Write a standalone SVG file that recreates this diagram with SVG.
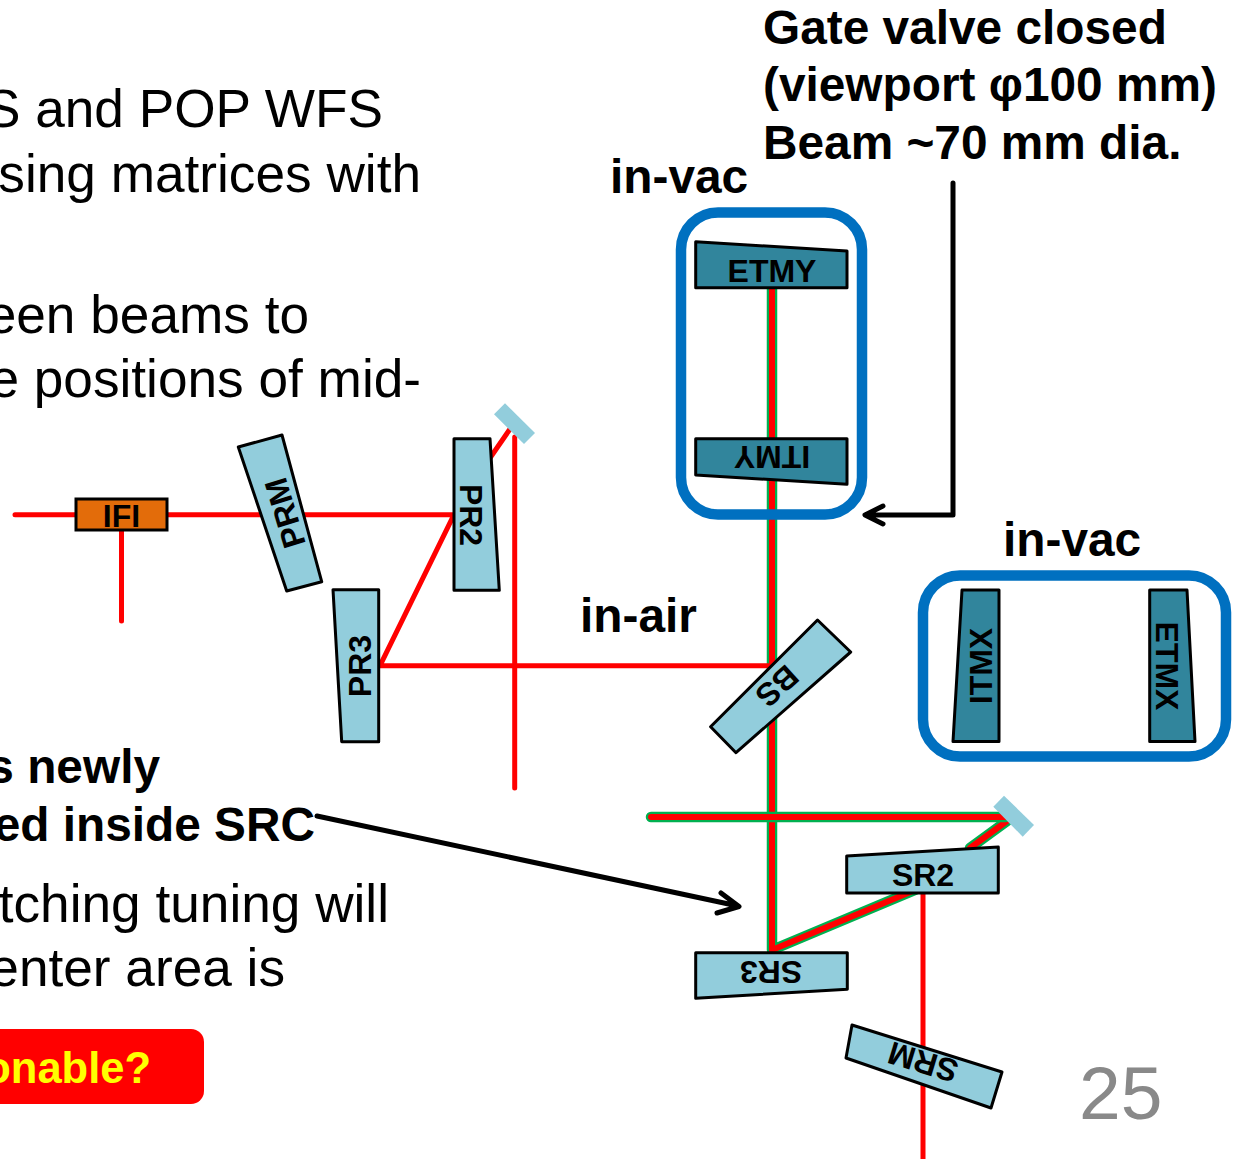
<svg xmlns="http://www.w3.org/2000/svg" width="1236" height="1159" viewBox="0 0 1236 1159">
<style>
text{font-family:"Liberation Sans",Arial,sans-serif}
.body{font-size:53.200px;fill:#000;text-anchor:end}
.bold{font-size:47.800px;font-weight:700;fill:#000}
.boldend{font-size:47.800px;font-weight:700;fill:#000;text-anchor:end}
.lbl{font-size:32px;font-weight:700;fill:#000;text-anchor:middle;dominant-baseline:central}
.light{fill:#92CDDC;stroke:#000;stroke-width:3;stroke-linejoin:round}
.dark{fill:#31859C;stroke:#000;stroke-width:3;stroke-linejoin:round}
.mir{fill:#92CDDC}
.box{fill:none;stroke:#0070C0;stroke-width:10.500}
.r{fill:none;stroke:#FF0000;stroke-width:5;stroke-linecap:round;stroke-linejoin:round}
.gb{fill:none;stroke:#00B050;stroke-width:10.500;stroke-linecap:round;stroke-linejoin:round}
.rb{fill:none;stroke:#FF0000;stroke-width:6;stroke-linecap:round;stroke-linejoin:round}
.k{fill:none;stroke:#000;stroke-width:5;stroke-linecap:round;stroke-linejoin:round}
</style>
<g id="body-text">
<text class="body" x="383" y="127">S and POP WFS</text>
<text class="body" x="421" y="192">sing matrices with</text>
<text class="body" x="309" y="333">een beams to</text>
<text class="body" x="421" y="397">e positions of mid-</text>
<text class="boldend" x="160" y="783">s newly</text>
<text class="boldend" x="315" y="841">ed inside SRC</text>
<text class="body" x="389" y="922">tching tuning will</text>
<text class="body" x="285" y="986">enter area is</text>
</g>
<g id="question">
<rect x="-40" y="1029" width="244" height="75" rx="13" fill="#FF0000"/>
<text x="151" y="1083" font-size="43.500" font-weight="700" fill="#FFFF00" text-anchor="end">onable?</text>
</g>
<g id="page-number"><text x="1079" y="1119" font-size="75" fill="#898989">25</text></g>
<g id="connectors">
<path class="gb" d="M772 288V950L915 890"/>
<path class="rb" d="M772 288V950L915 890"/>
<path class="gb" d="M970 848L1007 821"/>
<path class="rb" d="M970 848L1007 821"/>
<path class="gb" d="M651 817H1005"/>
<path class="rb" d="M651 817H1005"/>
<path class="r" d="M923 893V1159"/>
<path class="r" d="M15 514.700H454L380 665.700H772"/>
<path class="r" d="M121.500 530V621"/>
<path class="r" d="M514.700 437V788"/>
<path class="r" d="M509.300 430L490 458"/>
<path class="k" d="M953 183V515H866M883 506L865 515L883 524"/>
<path class="k" d="M317 816L738 906M721 893L739 906.500L717 913"/>
</g>
<g id="IFI"><rect x="76" y="499" width="91" height="31" fill="#E36C0A" stroke="#000" stroke-width="3"/><text class="lbl" x="121.500" y="516">IFI</text></g>
<g id="PRM"><polygon class="light" points="238.300,447 282,435 321.700,581.700 286.700,591"/><text class="lbl" transform="translate(285 513) rotate(-107)">PRM</text></g>
<g id="PR2"><polygon class="light" points="454,438.700 490,438.700 499.300,590.300 454,590.300"/><text class="lbl" transform="translate(471 515) rotate(90)">PR2</text></g>
<g id="PR3"><polygon class="light" points="333,589.700 378.700,589.700 378.700,741.700 341.700,741.700"/><text class="lbl" transform="translate(360 666) rotate(-90)">PR3</text></g>
<g id="mirror-pr"><polygon class="mir" points="505,403.300 535,433 524,444 494,414.300"/></g>
<g id="mirror-sr"><polygon class="mir" points="1004,795.700 1034,825 1022.700,836.700 993.300,806.700"/></g>
<g id="BS"><polygon class="light" points="817.500,620 850.700,652 736,752.700 710.600,726.700"/><text class="lbl" transform="translate(777 686) rotate(138)">BS</text></g>
<g id="ETMY"><polygon class="dark" points="695.700,241.700 847,251 847,287.700 695.700,287.700"/><text class="lbl" x="772" y="271">ETMY</text></g>
<g id="ITMY"><polygon class="dark" points="695.700,438.700 847,438.700 847,484.300 695.700,475"/><text class="lbl" transform="translate(772 457) rotate(180)">ITMY</text></g>
<g id="ITMX"><polygon class="dark" points="962,590 999,590 999,741.500 953,741.500"/><text class="lbl" transform="translate(981 666) rotate(-90)">ITMX</text></g>
<g id="ETMX"><polygon class="dark" points="1149.700,590 1187,590 1195,741.500 1149.700,741.500"/><text class="lbl" transform="translate(1167 666) rotate(90)">ETMX</text></g>
<g id="SR2"><polygon class="light" points="846.700,856 998.300,847 998.300,893 846.700,893"/><text class="lbl" x="923" y="875">SR2</text></g>
<g id="SR3"><polygon class="light" points="695.700,952.700 847.300,952.700 847.300,989.300 695.700,998.300"/><text class="lbl" transform="translate(771 972) rotate(180)">SR3</text></g>
<g id="SRM"><polygon class="light" points="852,1025 1002,1072 991,1108 846,1058"/><text class="lbl" transform="translate(923 1062) rotate(197)">SRM</text></g>
<g id="box-y"><rect class="box" x="681" y="212.500" width="181" height="302" rx="37"/></g>
<g id="box-x"><rect class="box" x="923" y="575.500" width="303" height="181" rx="37"/></g>
<g id="labels">
<text class="bold" x="763" y="44">Gate valve closed</text>
<text class="bold" x="763" y="101">(viewport φ100 mm)</text>
<text class="bold" x="763" y="159">Beam ~70 mm dia.</text>
<text class="bold" x="610" y="193">in-vac</text>
<text class="bold" x="1003" y="556">in-vac</text>
<text class="bold" x="580" y="632">in-air</text>
</g>
</svg>
